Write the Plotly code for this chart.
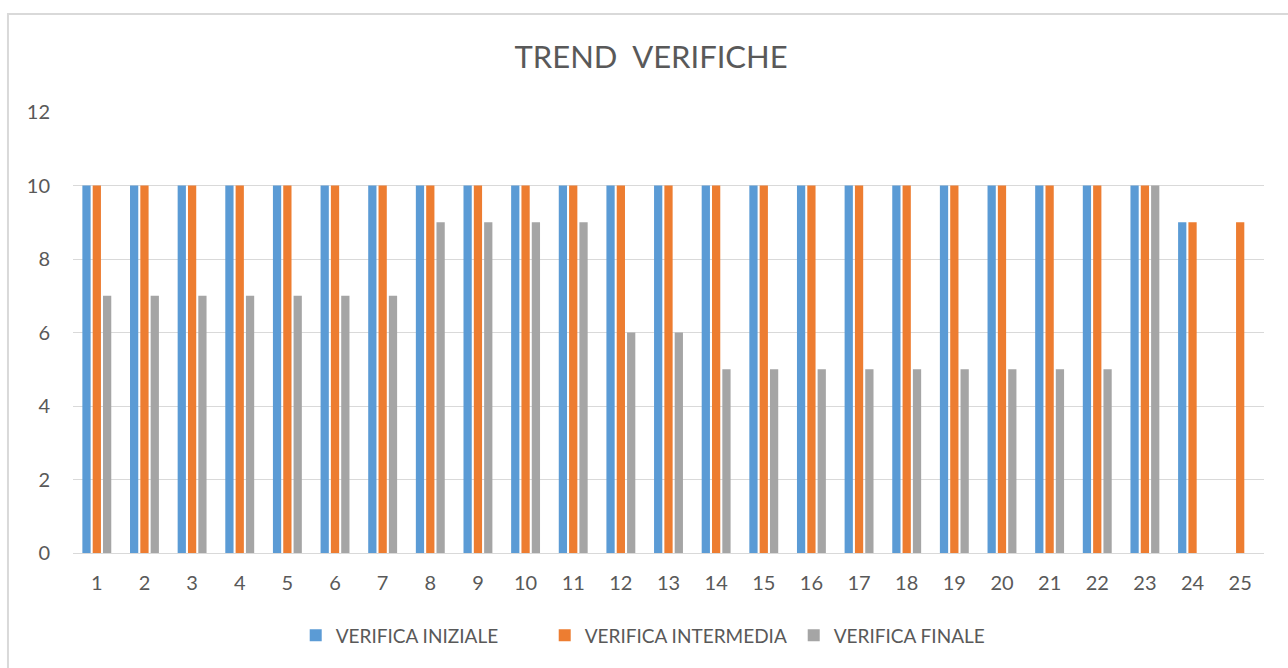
import plotly.graph_objects as go

categories = [str(i) for i in range(1, 26)]
verifica_iniziale = [10] * 23 + [9, None]
verifica_intermedia = [10] * 23 + [9, 9]
verifica_finale = [7, 7, 7, 7, 7, 7, 7, 9, 9, 9, 9, 6, 6, 5, 5, 5, 5, 5, 5, 5, 5, 5, 10, None, None]

series_names = ["VERIFICA INIZIALE", "VERIFICA INTERMEDIA", "VERIFICA FINALE"]
series_colors = ["#5B9BD5", "#ED7D31", "#A5A5A5"]
y_ticks = [0, 2, 4, 6, 8, 10, 12]

text_color = "#595959"
font_family = "Lato, Open Sans, sans-serif"

fig = go.Figure()
for name, values, color in zip(series_names,
                               [verifica_iniziale, verifica_intermedia, verifica_finale],
                               series_colors):
    fig.add_trace(go.Bar(x=categories, y=values, name=name, marker_color=color,
                         marker_line_width=0))

fig.update_layout(
    width=1288, height=668,
    margin=dict(l=73, r=24, t=112, b=115),
    paper_bgcolor="white", plot_bgcolor="white",
    barmode="group", bargap=0.35, bargroupgap=0.2,
    font=dict(family=font_family, color=text_color, size=14),
    title=dict(text="TREND  VERIFICHE", x=0.5055, xanchor="center",
               y=1 - 57 / 668, yanchor="middle",
               font=dict(size=31, color=text_color, family=font_family)),
    showlegend=True,
    legend=dict(orientation="h", x=0.187, xanchor="left", y=-0.187, yanchor="middle",
                font=dict(size=19, color=text_color), itemwidth=30,
                entrywidth=204, entrywidthmode="pixels",
                traceorder="normal"),
    shapes=[dict(type="rect", xref="paper", yref="paper",
                 x0=-0.0546, x1=1.05, y0=-0.3, y1=1.222,
                 line=dict(color="#D9D9D9", width=2), fillcolor="rgba(0,0,0,0)",
                 layer="below")],
)
fig.update_xaxes(type="category", showgrid=False, showline=False, ticks="",
                 tickfont=dict(size=20, color=text_color), ticklabelstandoff=16)
fig.update_yaxes(range=[0, 12], tickvals=y_ticks, showgrid=True, gridcolor="#D9D9D9",
                 gridwidth=1, zeroline=True, zerolinecolor="#D9D9D9", zerolinewidth=1,
                 showline=False, ticks="", tickfont=dict(size=20, color=text_color),
                 ticklabelstandoff=22)

fig.write_html("out.html")
